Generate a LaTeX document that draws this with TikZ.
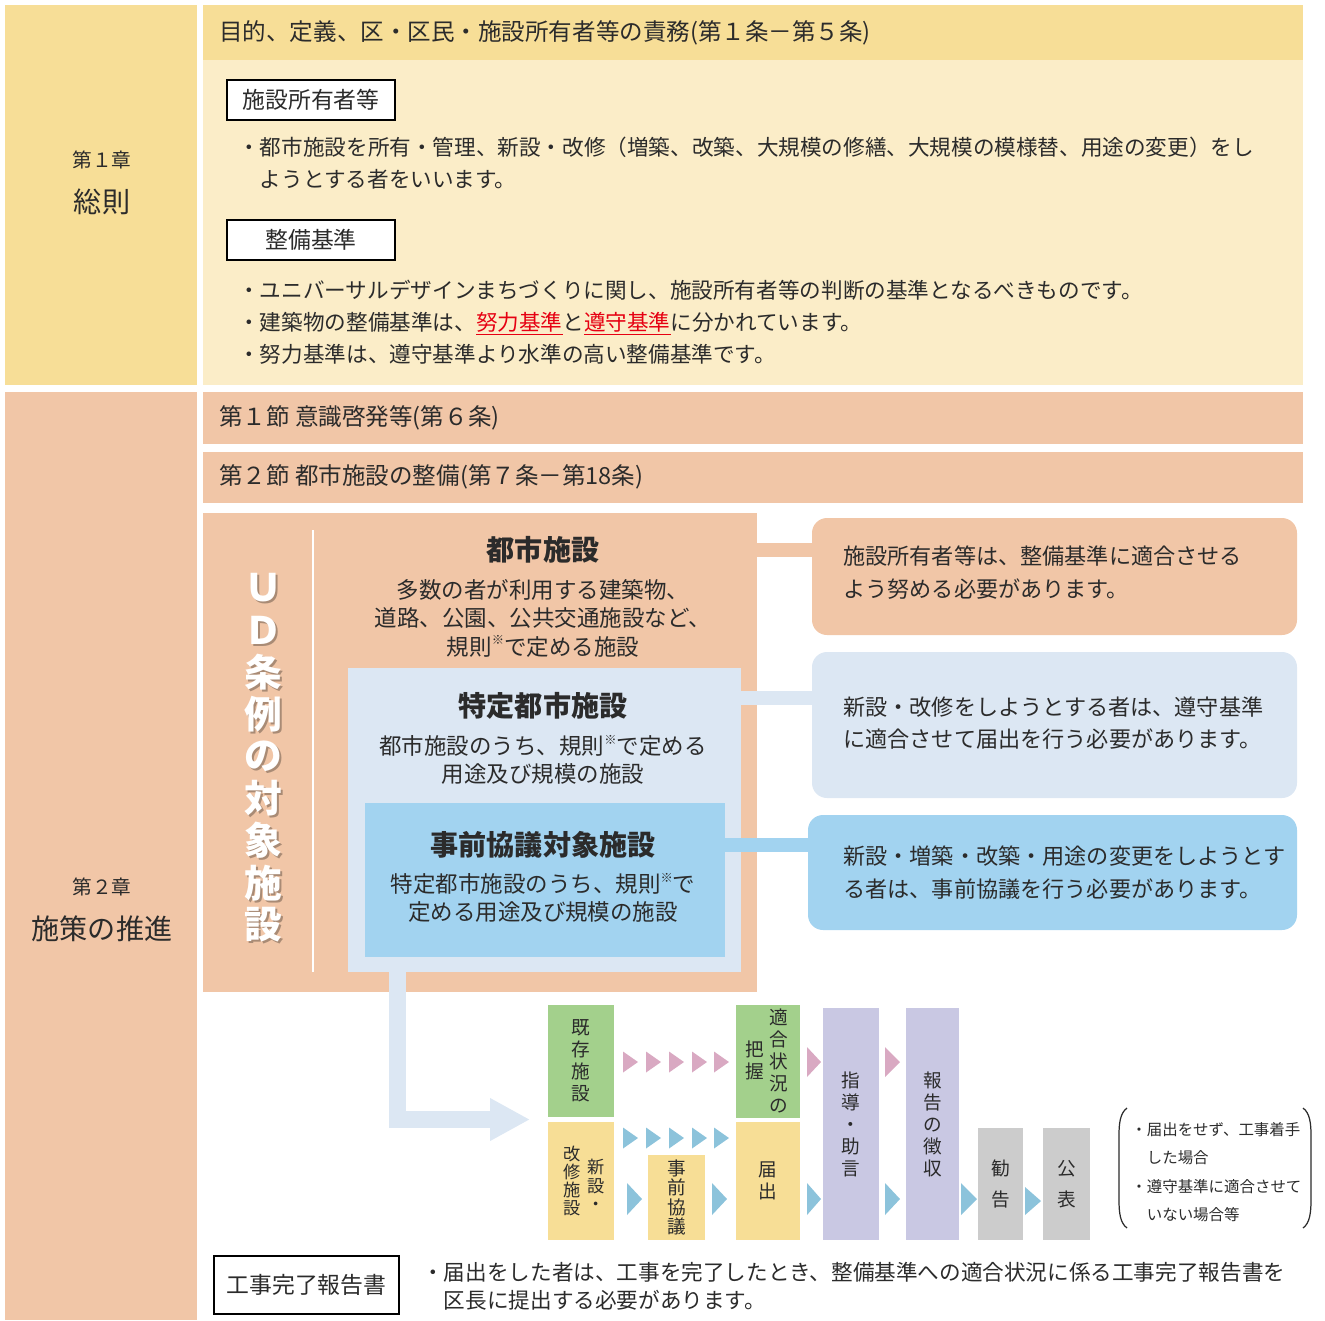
\documentclass[tikz,border=0pt]{standalone}
\usepackage{fontspec}
\setmainfont{Noto Sans CJK JP}
\usetikzlibrary{fit,calc,arrows.meta}

\definecolor{chapY}{HTML}{F7DE97}
\definecolor{panelY}{HTML}{FBEDC8}
\definecolor{salmon}{HTML}{F1C6A7}
\definecolor{paleblue}{HTML}{DCE7F3}
\definecolor{midblue}{HTML}{A2D3F0}
\definecolor{leaf}{HTML}{A3D08C}
\definecolor{butter}{HTML}{F7DE96}
\definecolor{lilac}{HTML}{C9C8E3}
\definecolor{stone}{HTML}{CCCCCC}
\definecolor{pinktip}{HTML}{D9A9C2}
\definecolor{bluetip}{HTML}{8CC3DB}
\definecolor{redword}{HTML}{E60012}
\definecolor{ink}{HTML}{2B2B2B}

\def\flowtip[#1](#2,#3)(#4:#5){\fill[#1] ({#2},{#3-#5/2}) -- ({#2+#4},{#3}) -- ({#2},{#3+#5/2}) -- cycle;}
\newcommand\kome{\raisebox{0.45em}{\fontsize{7}{7}\selectfont ※}}

\tikzset{
  zone/.style={inner sep=0pt, outer sep=0pt},
  tagbox/.style={zone, draw=black, line width=1pt, fill=white},
  tagtext/.style={inner sep=0pt, font=\fontsize{13}{15}\selectfont},
  barlabel/.style={anchor=west, inner sep=0pt, font=\fontsize{13.4}{15}\selectfont},
  bulletlist/.style={anchor=west, align=left, inner sep=0pt, font=\fontsize{12.3}{18.1}\selectfont},
  chapnum/.style={inner sep=0pt, font=\fontsize{11.2}{13}\selectfont},
  chapname/.style={inner sep=0pt, font=\fontsize{16}{18}\selectfont},
  facname/.style={inner sep=0pt, font=\fontsize{16}{18}\selectfont\bfseries},
  facdesc/.style={inner sep=0pt, align=center, font=\fontsize{12.8}{16.2}\selectfont},
  udchar/.style={inner sep=0pt, font=\fontsize{21.5}{22}\selectfont\bfseries},
  duty/.style={zone, rounded corners=0.3cm},
  dutytext/.style={anchor=west, align=left, inner sep=0pt, font=\fontsize{12.6}{18.7}\selectfont},
  band/.style={line width=0.28cm},
  vstack/.style={inner sep=0pt, align=center, font=\fontsize{10.6}{12.5}\selectfont},
  vtight/.style={vstack, font=\fontsize{9.8}{10.4}\selectfont},
}

\begin{document}
\begin{tikzpicture}[x=0.02cm, y=-0.02cm, every node/.append style={text=ink}]
\useasboundingbox (0,0) rectangle (1325,1320);

%%% chapter 1
\node[zone, fill=chapY, fit={(5,5) (197,385)}] (ch1) {};
\node[chapnum] (ch1num) at (102,160) {第１章};
\node[chapname] (ch1name) at (102,202) {総則};

\node[zone, fill=chapY, fit={(203,5) (1303,60)}] (head1) {};
\node[barlabel] (head1txt) at (219,33) {目的、定義、区・区民・施設所有者等の責務(第１条－第５条)};
\node[zone, fill=panelY, fit={(203,60) (1303,385)}] (panel1) {};

\node[tagbox, fit={(227,80) (395,120)}] (owner) {};
\node[tagtext] (ownerT) at (owner.center) {施設所有者等};
\node[bulletlist] (ownerdef) at (238,163) {・都市施設を所有・管理、新設・改修（増築、改築、大規模の修繕、大規模の模様替、用途の変更）をし\\\phantom{・}ようとする者をいいます。};

\node[tagbox, fit={(227,220) (395,260)}] (std) {};
\node[tagtext] (stdT) at (std.center) {整備基準};
\node[bulletlist] (stddef) at (238,322) {・ユニバーサルデザインまちづくりに関し、施設所有者等の判断の基準となるべきものです。\\・建築物の整備基準は、\textcolor{redword}{\underline{努力基準}}と\textcolor{redword}{\underline{遵守基準}}に分かれています。\\・努力基準は、遵守基準より水準の高い整備基準です。};

%%% chapter 2
\node[zone, fill=salmon, fit={(5,392) (197,1320)}] (ch2) {};
\node[chapnum] (ch2num) at (102,887) {第２章};
\node[chapname] (ch2name) at (102,929) {施策の推進};

\node[zone, fill=salmon, fit={(203,392) (1303,444)}] (sec1) {};
\node[barlabel] (sec1txt) at (219,418) {第１節 意識啓発等(第６条)};
\node[zone, fill=salmon, fit={(203,452) (1303,503)}] (sec2) {};
\node[barlabel] (sec2txt) at (219,477) {第２節 都市施設の整備(第７条－第18条)};

%%% target facilities
\node[zone, fill=salmon, fit={(203,513) (757,992)}] (udbox) {};
\draw[white, line width=1.2pt] (313,530) -- (313,972);
\foreach \c [count=\i from 0] in {Ｕ,Ｄ,条,例,の,対,象,施,設} {
  \node[udchar, text=black!30!salmon] at (265,{590+42.1*\i}) {\c};
  \node[udchar, text=white] at (263,{588+42.1*\i}) {\c};
}

\node[facname] (toshiT) at (543,550) {都市施設};
\node[facdesc] (toshiD) at (543,618) {多数の者が利用する建築物、\\道路、公園、公共交通施設など、\\規則\kome で定める施設};

\node[zone, fill=paleblue, fit={(348,668) (741,972)}] (tokutei) {};
\node[facname] (tokuteiT) at (543,706) {特定都市施設};
\node[facdesc] (tokuteiD) at (543,760) {都市施設のうち、規則\kome で定める\\用途及び規模の施設};

\node[zone, fill=midblue, fit={(365,803) (725,957)}] (jizen) {};
\node[facname] (jizenT) at (543,845) {事前協議対象施設};
\node[facdesc] (jizenD) at (543,898) {特定都市施設のうち、規則\kome で\\定める用途及び規模の施設};

%%% duties
\node[duty, fill=salmon, fit={(812,518) (1297,635)}] (duty1) {};
\node[dutytext] (duty1txt) at (843,573) {施設所有者等は、整備基準に適合させる\\よう努める必要があります。};
\node[duty, fill=paleblue, fit={(812,652) (1297,798)}] (duty2) {};
\node[dutytext] (duty2txt) at (843,723) {新設・改修をしようとする者は、遵守基準\\に適合させて届出を行う必要があります。};
\node[duty, fill=midblue, fit={(808,815) (1297,930)}] (duty3) {};
\node[dutytext] (duty3txt) at (843,873) {新設・増築・改築・用途の変更をしようとす\\る者は、事前協議を行う必要があります。};

\coordinate (b1) at ($(udbox.north east)+(0,37)$);
\coordinate (b2) at ($(tokutei.north east)+(0,30)$);
\coordinate (b3) at ($(jizen.north east)+(0,42)$);
\draw[band, salmon] (b1) -- (b1 -| duty1.west);
\draw[band, paleblue] (b2) -- (b2 -| duty2.west);
\draw[band, midblue] (b3) -- (b3 -| duty3.west);

%%% procedure flow
\node[zone, fill=leaf, fit={(548,1005) (614,1117)}] (kizon) {};
\node[vstack] (kizonT) at (kizon.center) {既\\存\\施\\設};
\node[zone, fill=butter, fit={(548,1122) (614,1240)}] (shinki) {};
\node[vtight] (shinkiR) at (596,1185) {新\\設\\・};
\node[vtight] (shinkiL) at (572,1181) {改\\修\\施\\設};

\coordinate (flowin) at ($(kizon.south west)!0.5!(shinki.north west)+(-18,0)$);
\draw[line width=0.34cm, paleblue, -{Triangle[length=0.8cm, width=0.8cm]}] ($(tokutei.south west)+(49,-5)$) |- (flowin);

\node[zone, fill=butter, fit={(648,1155) (705,1240)}] (kyogi) {};
\node[vstack, font=\fontsize{10.6}{10.9}\selectfont] (kyogiT) at (kyogi.center) {事\\前\\協\\議};
\node[zone, fill=leaf, fit={(736,1005) (800,1118)}] (haaku) {};
\node[vstack] (haakuR) at (779,1061) {適\\合\\状\\況\\の};
\node[vstack] (haakuL) at (755,1060) {把\\握};
\node[zone, fill=butter, fit={(736,1122) (800,1240)}] (todoke) {};
\node[vstack] (todokeT) at (todoke.center) {届\\出};
\node[zone, fill=lilac, fit={(823,1008) (879,1240)}] (shido) {};
\node[vstack] (shidoT) at (shido.center) {指\\導\\・\\助\\言};
\node[zone, fill=lilac, fit={(906,1008) (959,1240)}] (houkoku) {};
\node[vstack] (houkokuT) at (houkoku.center) {報\\告\\の\\徴\\収};
\node[zone, fill=stone, fit={(978,1128) (1023,1240)}] (kankoku) {};
\node[vstack, font=\fontsize{10.6}{18}\selectfont] (kankokuT) at (kankoku.center) {勧\\告};
\node[zone, fill=stone, fit={(1043,1128) (1090,1240)}] (kohyo) {};
\node[vstack, font=\fontsize{10.6}{18}\selectfont] (kohyoT) at (kohyo.center) {公\\表};

\foreach \x in {623,646,669,692,714} {
  \flowtip[pinktip](\x,1062)(15:21)
  \flowtip[bluetip](\x,1138)(15:21)
}
\flowtip[pinktip](807,1062)(14:30)
\flowtip[pinktip](885,1062)(15:30)
\flowtip[bluetip](627,1199)(15:32)
\flowtip[bluetip](712,1199)(15:32)
\flowtip[bluetip](807,1199)(14:32)
\flowtip[bluetip](885,1199)(15:32)
\flowtip[bluetip](961,1199)(16:32)
\flowtip[bluetip](1025,1201)(16:28)

\node[anchor=west, align=left, inner sep=0pt, font=\fontsize{8.8}{16.2}\selectfont] (cases) at (1131,1172) {・届出をせず、工事着手\\\phantom{・}した場合\\・遵守基準に適合させて\\\phantom{・}いない場合等};
\draw[line width=0.7pt, ink] (1127,1108) .. controls (1120,1113) and (1119,1124) .. (1119,1135) -- (1119,1200) .. controls (1119,1212) and (1120,1223) .. (1127,1228);
\draw[line width=0.7pt, ink] (1303,1108) .. controls (1310,1113) and (1311,1124) .. (1311,1135) -- (1311,1200) .. controls (1311,1212) and (1310,1223) .. (1303,1228);

%%% completion report
\node[tagbox, fit={(214,1256) (399,1314)}] (report) {};
\node[tagtext] (reportT) at (report.center) {工事完了報告書};
\node[bulletlist, font=\fontsize{12.3}{15.9}\selectfont] (reportdef) at (422,1286) {・届出をした者は、工事を完了したとき、整備基準への適合状況に係る工事完了報告書を\\\phantom{・}区長に提出する必要があります。};

\end{tikzpicture}
\end{document}
